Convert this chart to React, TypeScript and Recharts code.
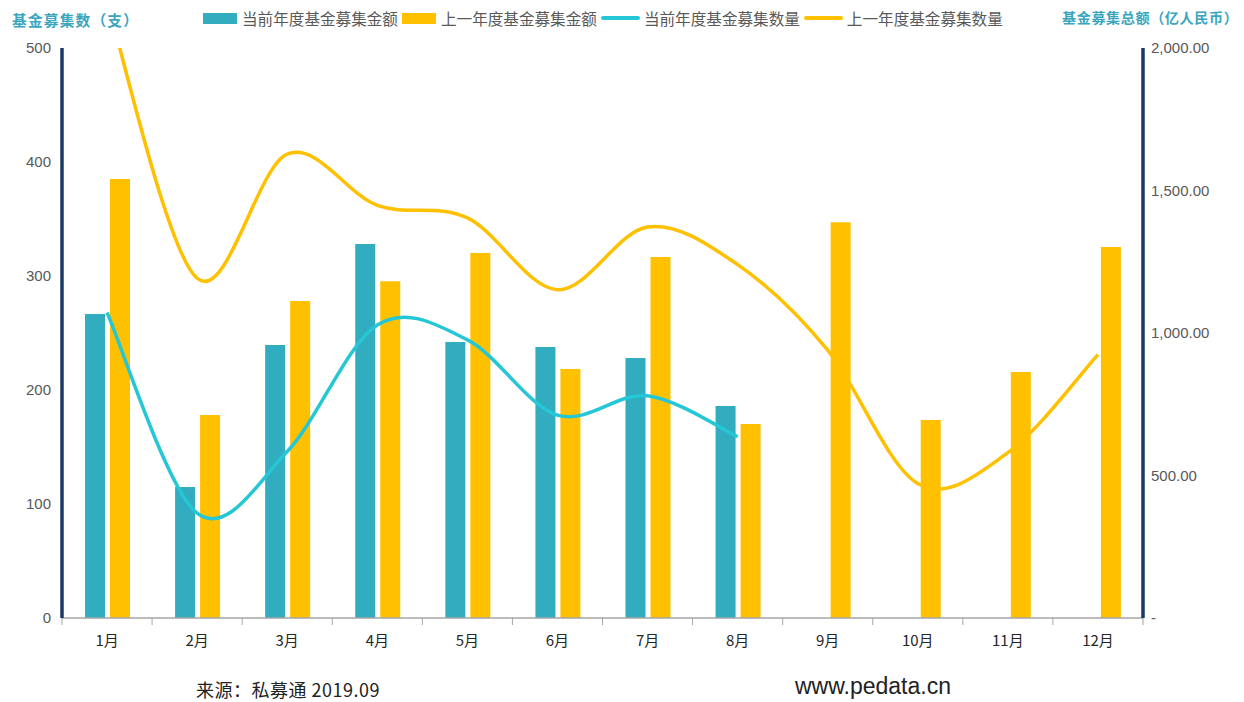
import React from "react";
import { ComposedChart, Bar, Line, XAxis, YAxis } from "recharts";

const months = ["1月", "2月", "3月", "4月", "5月", "6月", "7月", "8月", "9月", "10月", "11月", "12月"];
const currentAmount = [1067, 460, 958, 1312, 968, 951, 912, 744, null, null, null, null];
const previousAmount = [1540, 712, 1112, 1182, 1281, 874, 1267, 681, 1389, 695, 863, 1302];
const currentCount = [268, 92, 146, 257, 244, 178, 195, 159, null, null, null, null];
const previousCount = [540, 298, 407, 362, 351, 288, 343, 310, 235, 118, 145, 231];

const leftTicks = [0, 100, 200, 300, 400, 500];
const rightTicks = [0, 500, 1000, 1500, 2000];

const seriesNames = {
  curAmt: "当前年度基金募集金额",
  prevAmt: "上一年度基金募集金额",
  curCnt: "当前年度基金募集数量",
  prevCnt: "上一年度基金募集数量",
};

const data = months.map((m, i) => ({
  month: m,
  curAmt: currentAmount[i],
  prevAmt: previousAmount[i],
  curCnt: currentCount[i],
  prevCnt: previousCount[i],
}));

const W = 1244;
const H = 702;
const PLOT_LEFT = 62;
const PLOT_RIGHT = 1143;
const HALF_BAND = (PLOT_RIGHT - PLOT_LEFT) / months.length / 2;

const TEAL = "#31ADBF";
const GOLD = "#FFC000";
const CYAN = "#25C7D6";
const NAVY = "#1B3A66";

// Catmull-Rom style smoothing (similar to spreadsheet smoothed lines)
const smoothCurve: any = (context: any) => {
  let pts: number[][] = [];
  return {
    areaStart() {},
    areaEnd() {},
    lineStart() {
      pts = [];
    },
    point(x: number, y: number) {
      pts.push([+x, +y]);
    },
    lineEnd() {
      if (!pts.length) return;
      context.moveTo(pts[0][0], pts[0][1]);
      if (pts.length === 1) return;
      for (let i = 0; i < pts.length - 1; i++) {
        const p0 = pts[i - 1] || pts[i];
        const p1 = pts[i];
        const p2 = pts[i + 1];
        const p3 = pts[i + 2] || p2;
        const c1x = p1[0] + (p2[0] - p0[0]) / 6;
        const c1y = p1[1] + (p2[1] - p0[1]) / 6;
        const c2x = p2[0] - (p3[0] - p1[0]) / 6;
        const c2y = p2[1] - (p3[1] - p1[1]) / 6;
        context.bezierCurveTo(c1x, c1y, c2x, c2y, p2[0], p2[1]);
      }
    },
  };
};

const XTick = (props: any) => {
  const { x, y, payload, index } = props;
  const last = index === months.length - 1;
  return (
    <g>
      <line x1={x - HALF_BAND} x2={x - HALF_BAND} y1={y - 8} y2={y - 1} stroke="#A6A6A6" strokeWidth={1} />
      {last && (
        <line x1={x + HALF_BAND} x2={x + HALF_BAND} y1={y - 8} y2={y - 1} stroke="#A6A6A6" strokeWidth={1} />
      )}
      <text x={x} y={y + 20} textAnchor="middle" fontSize={15} fill="#262626" fontFamily="'Noto Sans CJK SC', sans-serif">
        {payload.value}
      </text>
    </g>
  );
};

const legendItems = [
  { key: "curAmt", color: TEAL, kind: "rect" },
  { key: "prevAmt", color: GOLD, kind: "rect" },
  { key: "curCnt", color: CYAN, kind: "line" },
  { key: "prevCnt", color: GOLD, kind: "line" },
];

const LegendBlock = () => (
  <div style={{ position: "absolute", left: 203, top: 0, display: "flex", alignItems: "center", height: 36 }}>
    {legendItems.map((it) => (
      <div key={it.key} style={{ display: "flex", alignItems: "center", marginRight: 4 }}>
        {it.kind === "rect" ? (
          <div style={{ width: 34, height: 11, background: it.color, marginRight: 5 }} />
        ) : (
          <div style={{ width: 39, height: 4, borderRadius: 2, background: it.color, marginRight: 4 }} />
        )}
        <span style={{ fontSize: 15.6, color: "#595959", whiteSpace: "nowrap", fontFamily: "'Noto Sans CJK SC', sans-serif" }}>
          {(seriesNames as any)[it.key]}
        </span>
      </div>
    ))}
  </div>
);

const fmtRight = (v: number) =>
  v === 0 ? "-" : v.toLocaleString("en-US", { minimumFractionDigits: 2, maximumFractionDigits: 2 });

export default function App() {
  return (
    <div style={{ position: "absolute", left: 0, top: 0, width: W, height: H, background: "#fff", overflow: "hidden", fontFamily: "'Noto Sans CJK SC', sans-serif" }}>
      <ComposedChart
        width={W}
        height={H}
        data={data}
        margin={{ top: 48, right: 0, bottom: 54, left: 0 }}
        barSize={20}
        barGap={5}
      >
        <XAxis
          dataKey="month"
          xAxisId="x"
          height={30}
          axisLine={{ stroke: "#A6A6A6", strokeWidth: 1.5 }}
          tickLine={false}
          tick={<XTick />}
          interval={0}
        />
        <YAxis
          yAxisId="left"
          orientation="left"
          width={62}
          domain={[0, 500]}
          ticks={leftTicks}
          allowDataOverflow
          axisLine={{ stroke: NAVY, strokeWidth: 3.5 }}
          tickLine={false}
          tickMargin={5}
          tick={{ fontSize: 15, fill: "#595959", fontFamily: "'Liberation Sans', Arial, sans-serif" }}
        />
        <YAxis
          yAxisId="right"
          orientation="right"
          width={101}
          domain={[0, 2000]}
          ticks={rightTicks}
          allowDataOverflow
          axisLine={{ stroke: NAVY, strokeWidth: 3.5 }}
          tickLine={false}
          tickMargin={2}
          tickFormatter={fmtRight}
          tick={{ fontSize: 15, fill: "#595959", textAnchor: "start", fontFamily: "'Liberation Sans', Arial, sans-serif" }}
        />
        <Bar xAxisId="x" yAxisId="right" dataKey="curAmt" name={seriesNames.curAmt} fill={TEAL} isAnimationActive={false} />
        <Bar xAxisId="x" yAxisId="right" dataKey="prevAmt" name={seriesNames.prevAmt} fill={GOLD} isAnimationActive={false} />
        <Line
          xAxisId="x"
          yAxisId="left"
          dataKey="curCnt"
          name={seriesNames.curCnt}
          type={smoothCurve}
          stroke={CYAN}
          strokeWidth={3.5}
          dot={false}
          activeDot={false}
          isAnimationActive={false}
        />
        <Line
          xAxisId="x"
          yAxisId="left"
          dataKey="prevCnt"
          name={seriesNames.prevCnt}
          type={smoothCurve}
          stroke={GOLD}
          strokeWidth={3.5}
          dot={false}
          activeDot={false}
          isAnimationActive={false}
        />
      </ComposedChart>
      <LegendBlock />
      <div style={{ position: "absolute", left: 12, top: 9, fontSize: 14.7, letterSpacing: 1.2, fontWeight: 700, color: "#3AA6BE", whiteSpace: "nowrap" }}>
        基金募集数（支）
      </div>
      <div style={{ position: "absolute", left: 1062, top: 7, fontSize: 14.1, letterSpacing: 0.6, fontWeight: 700, color: "#3AA6BE", whiteSpace: "nowrap" }}>
        基金募集总额（亿人民币）
      </div>
      <div style={{ position: "absolute", left: 196, top: 676, fontSize: 18, letterSpacing: 0.5, color: "#222", whiteSpace: "nowrap" }}>
        来源：私募通 2019.09
      </div>
      <div style={{ position: "absolute", left: 795, top: 673, fontSize: 23, color: "#222", whiteSpace: "nowrap", fontFamily: "'Liberation Sans', Arial, sans-serif" }}>
        www.pedata.cn
      </div>
    </div>
  );
}
